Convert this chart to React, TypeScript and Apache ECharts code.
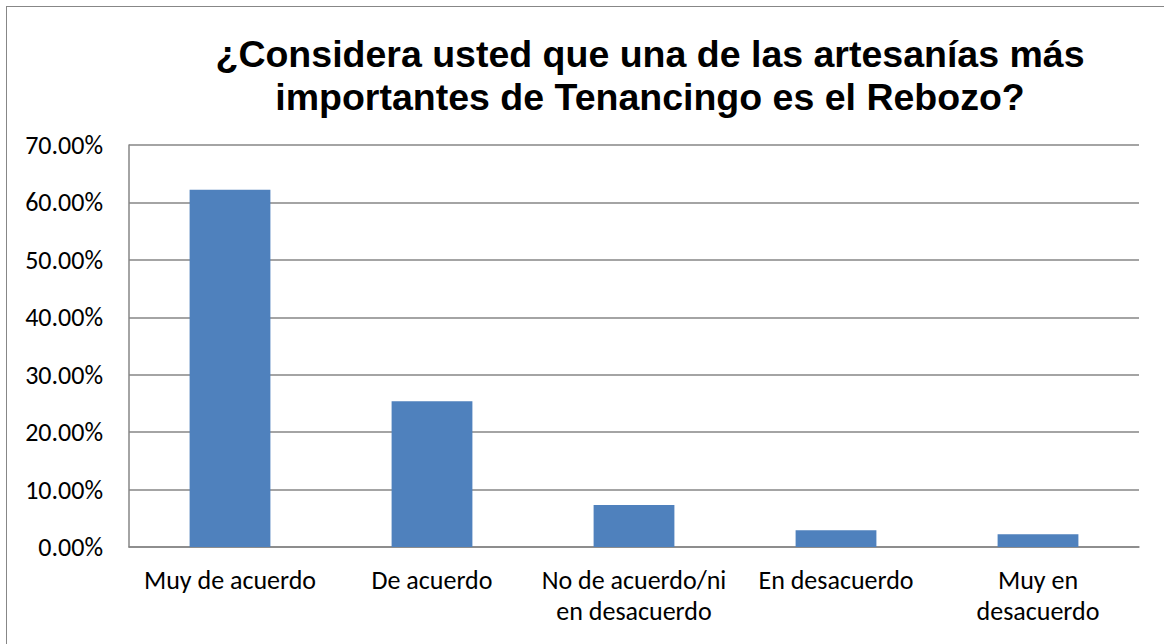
import React, { useEffect, useRef } from "react";
import * as echarts from "echarts";

const titleLines = [
  "¿Considera usted que una de las artesanías más",
  "importantes de Tenancingo es el Rebozo?",
];
const categories = [
  "Muy de acuerdo",
  "De acuerdo",
  "No de acuerdo/ni\nen desacuerdo",
  "En desacuerdo",
  "Muy en\ndesacuerdo",
];
const values = [62.2, 25.4, 7.3, 2.9, 2.2];
const yMin = 0;
const yMax = 70;
const yInterval = 10;

const labelFont = "Carlito, Calibri, Lato, 'Noto Sans', sans-serif";

export default function App() {
  const ref = useRef<HTMLDivElement>(null);
  useEffect(() => {
    if (!ref.current) return;
    const chart = echarts.init(ref.current, undefined, { renderer: "svg" });
    chart.setOption({
      animation: false,
      backgroundColor: "transparent",
      graphic: [
        {
          type: "text",
          x: 650,
          y: 75,
          style: {
            text: titleLines.join("\n"),
            textAlign: "center",
            textVerticalAlign: "middle",
            fontFamily: "'Liberation Sans', Arial, sans-serif",
            fontWeight: "bold",
            fontSize: 37.5,
            lineHeight: 43,
            fill: "#000",
          },
        },
      ],
      grid: { left: 129, right: 25, top: 145, bottom: 97, containLabel: false },
      xAxis: {
        type: "category",
        data: categories,
        axisLine: { show: true, lineStyle: { color: "#868686", width: 1.5 } },
        axisTick: { show: false },
        axisLabel: {
          color: "#000",
          fontFamily: labelFont,
          fontSize: 26,
          lineHeight: 31,
          margin: 17,
          interval: 0,
        },
      },
      yAxis: {
        type: "value",
        min: yMin,
        max: yMax,
        interval: yInterval,
        axisLine: { show: true, lineStyle: { color: "#868686", width: 1.5 } },
        axisTick: { show: false },
        splitLine: { show: true, lineStyle: { color: "#868686", width: 1.5 } },
        axisLabel: {
          color: "#000",
          fontFamily: labelFont,
          fontSize: 26,
          margin: 26,
          formatter: (v: number) => v.toFixed(2) + "%",
        },
      },
      series: [
        {
          type: "bar",
          data: values,
          barCategoryGap: "60%",
          itemStyle: { color: "#4F81BD" },
        },
      ],
    });
    return () => chart.dispose();
  }, []);

  return (
    <div
      style={{
        position: "fixed",
        left: 0,
        top: 0,
        width: 1164,
        height: 644,
        background: "#fff",
        overflow: "hidden",
      }}
    >
      <div
        style={{
          position: "absolute",
          left: 6,
          top: 6,
          width: 1200,
          height: 700,
          border: "1.5px solid #878787",
        }}
      />
      <div
        ref={ref}
        style={{ position: "absolute", left: 0, top: 0, width: 1164, height: 644 }}
      />
    </div>
  );
}
